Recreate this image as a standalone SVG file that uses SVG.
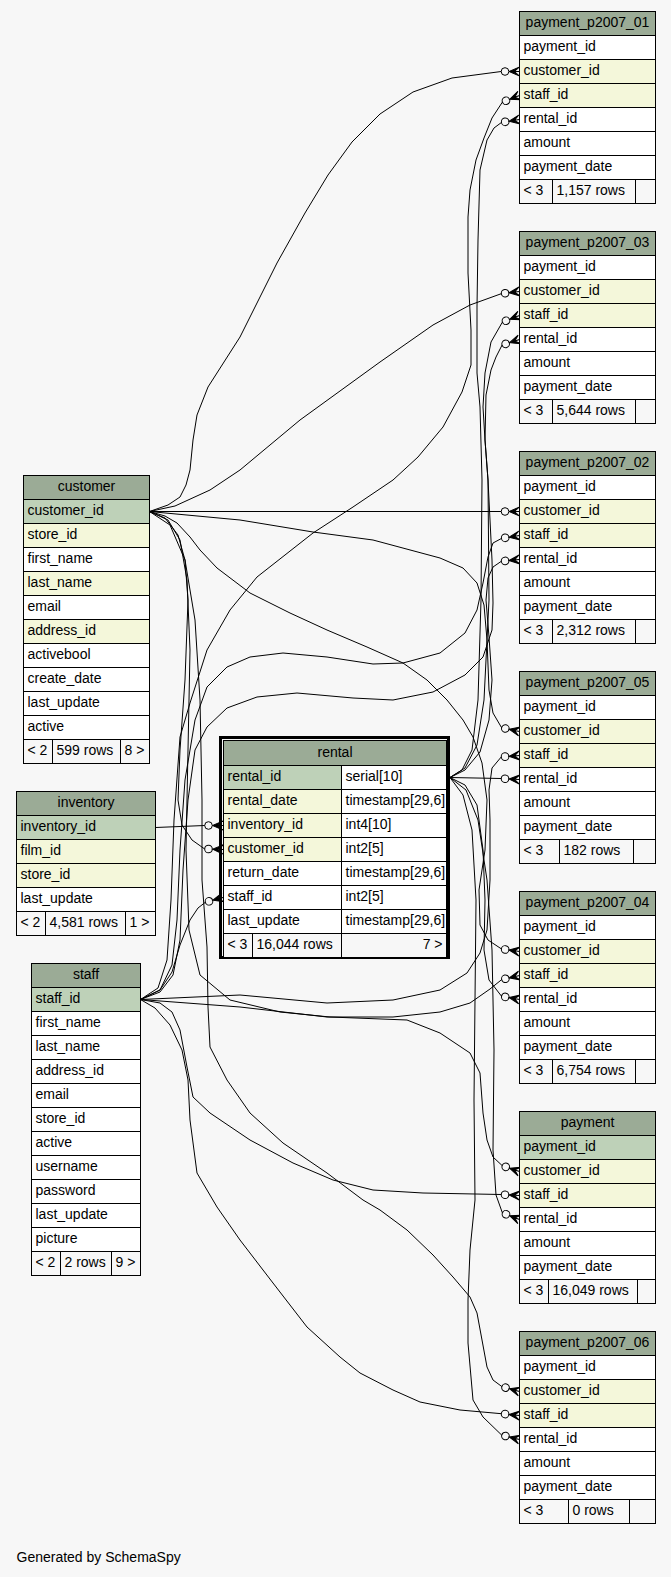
<svg xmlns="http://www.w3.org/2000/svg" xmlns:xlink="http://www.w3.org/1999/xlink" width="671" height="1577" viewBox="0 0 671 1577">
<style>
  text { font-family: "Liberation Sans", Arial, Helvetica, sans-serif; font-size: 14px; fill: #000; }
  .mid { text-anchor: middle; }
  .end { text-anchor: end; }
  .tbl rect { stroke: #000; stroke-width: 1; }
  .tbl rect.frame { fill: none; stroke: #000; stroke-width: 3; }
  .hdr { fill: #9bab96; }
  .pk { fill: #bed1b8; }
  .fk { fill: #f4f7da; }
  .w { fill: #ffffff; }
  .ft { fill: #f7f7f7; }
  #connectors path { fill: none; stroke: #000; stroke-width: 1; stroke-linejoin: round; }
</style>
<defs>
  <!-- crow's foot with open circle; tip at origin, edge leaves towards -x -->
  <g id="foot">
    <polygon points="-10.5,0 0,-4.5 -5,0 0,0 -5,0 0,4.5" fill="#000" stroke="#000" stroke-width="1"/>
    <circle cx="-14.5" cy="0" r="3.8" fill="none" stroke="#000" stroke-width="1"/>
  </g>
</defs>
<rect x="0" y="0" width="671" height="1577" fill="#f7f7f7"/>

<!-- connectors -->
<g id="connectors">
  <!-- customer.customer_id -->
  <path d="M149.5,511.5 L168,505 L180,497 L186,485 L190,470 L193,440 L197,415 L208,387 L240,337 L277,263 L305,213 L328,175 L352,142 L380,114 L413,92 L452,78 L501.2,71.5"/>
  <path d="M149.5,511.5 L175,506 L210,490 L240,470 L300,420 L380,362 L433,325 L470,305 L501.3,293.7"/>
  <path d="M149.5,511.5 L501.2,511.5"/>
  <path d="M149.5,511.5 L240,520 L313,532 L373,540 L440,558 L463,568 L477,583 L484,605 L487,640 L489,690 L493,713 L501.6,727.7"/>
  <path d="M149.5,511.5 L165,516 L177,523 L190,537 L200,550 L217,568 L250,593 L290,613 L327,630 L367,647 L403,663 L427,680 L447,700 L463,720 L473,737 L482,763 L487,800 L485,850 L479,890 L480,925 L488,940 L501.4,948.9"/>
  <path d="M149.5,511.5 L165,518 L178,535 L185,560 L188,600 L185,680 L180,750 L178,800 L182,825 L192,840 L204.7,849"/>
  <path d="M149.5,511.5 L168,520 L180,540 L187,580 L190,650 L188,750 L186,850 L189,930 L200,975 L230,1000 L280,1012 L330,1017 L407,1020 L440,1033 L470,1053 L480,1073 L483,1113 L487,1140 L493,1157 L502.2,1165.6"/>
  <path d="M149.5,511.5 L170,525 L185,560 L195,620 L200,700 L202,800 L202,880 L207,947 L208,1007 L210,1047 L227,1080 L250,1113 L283,1143 L327,1173 L363,1200 L380,1210 L407,1230 L433,1255 L453,1277 L470,1297 L477,1313 L482,1340 L487,1367 L493,1380 L501.9,1386.6"/>
  <!-- inventory.inventory_id -->
  <path d="M155.5,827.5 L204.7,825.5"/>
  <!-- staff.staff_id -->
  <path d="M140.5,999.5 L160,990 L172,972 L180,945 L190,920 L198,908 L205.3,902.3"/>
  <path d="M140.5,999.5 L158,988 L167,960 L171,900 L174,820 L180,737 L190,703 L207,650 L230,610 L257,577 L313,533 L353,507 L393,480 L418,457 L443,427 L462,392 L471,365 L471,330 L468,273 L468,217 L470,190 L476,160 L484,138 L492,118 L502.4,102.1"/>
  <path d="M140.5,999.5 L160,990 L172,965 L177,920 L180,850 L185,780 L195,720 L207,687 L227,667 L250,657 L283,653 L327,657 L373,664 L403,663 L440,653 L465,633 L477,610 L483,583 L488,557 L493,543 L501.4,538.5"/>
  <path d="M140.5,999.5 L160,992 L173,975 L180,940 L183,870 L188,800 L195,750 L207,727 L227,708 L257,697 L297,693 L353,698 L393,700 L433,692 L465,675 L483,657 L492,630 L493,603 L492,560 L490,520 L488,480 L485,440 L483,407 L485,373 L491,342 L502.4,322.1"/>
  <path d="M140.5,999.5 L240,995 L327,1003 L393,1000 L440,990 L467,973 L480,953 L487,930 L490,880 L490,820 L489,790 L492,768 L501.3,756.9"/>
  <path d="M140.5,999.5 L240,1007 L327,1017 L393,1017 L440,1012 L470,1003 L490,989 L501.7,979.6"/>
  <path d="M140.5,999.5 L160,1003 L172,1012 L180,1030 L187,1067 L193,1097 L210,1113 L250,1140 L293,1163 L333,1180 L373,1190 L423,1193 L501.2,1194.5"/>
  <path d="M140.5,999.5 L155,1008 L170,1025 L182,1050 L188,1080 L190,1120 L197,1173 L217,1207 L240,1240 L273,1283 L307,1327 L340,1357 L360,1373 L393,1390 L420,1402 L460,1410 L501.3,1413.7"/>
  <!-- rental.rental_id -->
  <path d="M450,777.5 L501.2,778.5"/>
  <path d="M450,777.5 L462,770 L472,750 L478,700 L481,600 L482,480 L480,407 L477,373 L477,307 L478,240 L480,170 L487,140 L494,128 L501.4,122.5"/>
  <path d="M450,777.5 L465,768 L477,745 L484,700 L489,600 L488,480 L485,440 L486,395 L491,370 L496,357 L502.1,345"/>
  <path d="M450,777.5 L465,770 L480,752 L489,720 L492,680 L489,637 L486,600 L488,578 L493,567 L501.3,561.3"/>
  <path d="M450,777.5 L465,785 L477,805 L483,850 L485,900 L484,950 L489,980 L501.5,996.2"/>
  <path d="M450,777.5 L466,790 L478,820 L487,880 L492,950 L494,1050 L493,1150 L496,1195 L502.4,1212.9"/>
  <path d="M450,777.5 L463,795 L472,830 L476,900 L475,1000 L474,1100 L475,1200 L470,1250 L468,1300 L468,1343 L473,1400 L483,1417 L501.7,1435.1"/>

  <!-- crow's feet at the referencing columns -->
  <use xlink:href="#foot" transform="translate(519.5,71.5)"/>
  <use xlink:href="#foot" transform="translate(519.5,95.5) rotate(-21.2)"/>
  <use xlink:href="#foot" transform="translate(519.5,119.5) rotate(-9.3)"/>
  <use xlink:href="#foot" transform="translate(519.5,291.5) rotate(-6.8)"/>
  <use xlink:href="#foot" transform="translate(519.5,315.5) rotate(-21.2)"/>
  <use xlink:href="#foot" transform="translate(519.5,339.5) rotate(-17.6)"/>
  <use xlink:href="#foot" transform="translate(519.5,511.5)"/>
  <use xlink:href="#foot" transform="translate(519.5,535.5) rotate(-9.3)"/>
  <use xlink:href="#foot" transform="translate(519.5,559.5) rotate(-5.6)"/>
  <use xlink:href="#foot" transform="translate(519.5,731.5) rotate(11.9)"/>
  <use xlink:href="#foot" transform="translate(519.5,755.5) rotate(-4.5)"/>
  <use xlink:href="#foot" transform="translate(519.5,779.5) rotate(3)"/>
  <use xlink:href="#foot" transform="translate(519.5,951.5) rotate(8.2)"/>
  <use xlink:href="#foot" transform="translate(519.5,975.5) rotate(-13)"/>
  <use xlink:href="#foot" transform="translate(519.5,999.5) rotate(10.4)"/>
  <use xlink:href="#foot" transform="translate(519.5,1171.5) rotate(18.7)"/>
  <use xlink:href="#foot" transform="translate(519.5,1195.5) rotate(3)"/>
  <use xlink:href="#foot" transform="translate(519.5,1219.5) rotate(21.2)"/>
  <use xlink:href="#foot" transform="translate(519.5,1391.5) rotate(15.4)"/>
  <use xlink:href="#foot" transform="translate(519.5,1415.5) rotate(5.6)"/>
  <use xlink:href="#foot" transform="translate(519.5,1439.5) rotate(14)"/>
  <use xlink:href="#foot" transform="translate(223,825.5)"/>
  <use xlink:href="#foot" transform="translate(223,849.5) rotate(2)"/>
  <use xlink:href="#foot" transform="translate(223,897.5) rotate(-15.2)"/>
</g>

<!-- customer -->
<g id="customer" class="tbl" transform="translate(23.5,475.5)">
  <rect class="hdr" x="0" y="0" width="126" height="24"/><text class="mid" x="63" y="15.5">customer</text>
  <rect class="pk" x="0" y="24" width="126" height="24"/><text x="4" y="39.5">customer_id</text>
  <rect class="fk" x="0" y="48" width="126" height="24"/><text x="4" y="63.5">store_id</text>
  <rect class="w" x="0" y="72" width="126" height="24"/><text x="4" y="87.5">first_name</text>
  <rect class="fk" x="0" y="96" width="126" height="24"/><text x="4" y="111.5">last_name</text>
  <rect class="w" x="0" y="120" width="126" height="24"/><text x="4" y="135.5">email</text>
  <rect class="fk" x="0" y="144" width="126" height="24"/><text x="4" y="159.5">address_id</text>
  <rect class="w" x="0" y="168" width="126" height="24"/><text x="4" y="183.5">activebool</text>
  <rect class="w" x="0" y="192" width="126" height="24"/><text x="4" y="207.5">create_date</text>
  <rect class="w" x="0" y="216" width="126" height="24"/><text x="4" y="231.5">last_update</text>
  <rect class="w" x="0" y="240" width="126" height="24"/><text x="4" y="255.5">active</text>
  <rect class="ft" x="0" y="264" width="29" height="24"/><text x="4" y="279.5">&lt; 2</text>
  <rect class="ft" x="29" y="264" width="68" height="24"/><text x="33" y="279.5">599 rows</text>
  <rect class="ft" x="97" y="264" width="29" height="24"/><text x="101" y="279.5">8 &gt;</text>
</g>

<!-- inventory -->
<g id="inventory" class="tbl" transform="translate(16.5,791.5)">
  <rect class="hdr" x="0" y="0" width="139" height="24"/><text class="mid" x="69.5" y="15.5">inventory</text>
  <rect class="pk" x="0" y="24" width="139" height="24"/><text x="4" y="39.5">inventory_id</text>
  <rect class="fk" x="0" y="48" width="139" height="24"/><text x="4" y="63.5">film_id</text>
  <rect class="fk" x="0" y="72" width="139" height="24"/><text x="4" y="87.5">store_id</text>
  <rect class="w" x="0" y="96" width="139" height="24"/><text x="4" y="111.5">last_update</text>
  <rect class="ft" x="0" y="120" width="29" height="24"/><text x="4" y="135.5">&lt; 2</text>
  <rect class="ft" x="29" y="120" width="80" height="24"/><text x="33" y="135.5">4,581 rows</text>
  <rect class="ft" x="109" y="120" width="30" height="24"/><text x="113" y="135.5">1 &gt;</text>
</g>

<!-- staff -->
<g id="staff" class="tbl" transform="translate(31.5,963.5)">
  <rect class="hdr" x="0" y="0" width="109" height="24"/><text class="mid" x="54.5" y="15.5">staff</text>
  <rect class="pk" x="0" y="24" width="109" height="24"/><text x="4" y="39.5">staff_id</text>
  <rect class="w" x="0" y="48" width="109" height="24"/><text x="4" y="63.5">first_name</text>
  <rect class="w" x="0" y="72" width="109" height="24"/><text x="4" y="87.5">last_name</text>
  <rect class="w" x="0" y="96" width="109" height="24"/><text x="4" y="111.5">address_id</text>
  <rect class="w" x="0" y="120" width="109" height="24"/><text x="4" y="135.5">email</text>
  <rect class="w" x="0" y="144" width="109" height="24"/><text x="4" y="159.5">store_id</text>
  <rect class="w" x="0" y="168" width="109" height="24"/><text x="4" y="183.5">active</text>
  <rect class="w" x="0" y="192" width="109" height="24"/><text x="4" y="207.5">username</text>
  <rect class="w" x="0" y="216" width="109" height="24"/><text x="4" y="231.5">password</text>
  <rect class="w" x="0" y="240" width="109" height="24"/><text x="4" y="255.5">last_update</text>
  <rect class="w" x="0" y="264" width="109" height="24"/><text x="4" y="279.5">picture</text>
  <rect class="ft" x="0" y="288" width="29" height="24"/><text x="4" y="303.5">&lt; 2</text>
  <rect class="ft" x="29" y="288" width="51" height="24"/><text x="33" y="303.5">2 rows</text>
  <rect class="ft" x="80" y="288" width="29" height="24"/><text x="84" y="303.5">9 &gt;</text>
</g>

<!-- rental -->
<g id="rental" class="tbl">
  <rect class="frame" x="220.5" y="737.5" width="228" height="220"/>
  <g transform="translate(223.5,740.5)">
    <rect class="hdr" x="0" y="0" width="223" height="25"/><text class="mid" x="111.5" y="16">rental</text>
    <rect class="pk" x="0" y="25" width="118" height="24"/><text x="4" y="40.5">rental_id</text>
    <rect class="w" x="118" y="25" width="105" height="24"/><text x="122" y="40.5">serial[10]</text>
    <rect class="fk" x="0" y="49" width="118" height="24"/><text x="4" y="64.5">rental_date</text>
    <rect class="w" x="118" y="49" width="105" height="24"/><text x="122" y="64.5">timestamp[29,6]</text>
    <rect class="fk" x="0" y="73" width="118" height="24"/><text x="4" y="88.5">inventory_id</text>
    <rect class="w" x="118" y="73" width="105" height="24"/><text x="122" y="88.5">int4[10]</text>
    <rect class="fk" x="0" y="97" width="118" height="24"/><text x="4" y="112.5">customer_id</text>
    <rect class="w" x="118" y="97" width="105" height="24"/><text x="122" y="112.5">int2[5]</text>
    <rect class="w" x="0" y="121" width="118" height="24"/><text x="4" y="136.5">return_date</text>
    <rect class="w" x="118" y="121" width="105" height="24"/><text x="122" y="136.5">timestamp[29,6]</text>
    <rect class="w" x="0" y="145" width="118" height="24"/><text x="4" y="160.5">staff_id</text>
    <rect class="w" x="118" y="145" width="105" height="24"/><text x="122" y="160.5">int2[5]</text>
    <rect class="w" x="0" y="169" width="118" height="24"/><text x="4" y="184.5">last_update</text>
    <rect class="w" x="118" y="169" width="105" height="24"/><text x="122" y="184.5">timestamp[29,6]</text>
    <rect class="ft" x="0" y="193" width="29" height="24"/><text x="4" y="208.5">&lt; 3</text>
    <rect class="ft" x="29" y="193" width="89" height="24"/><text x="33" y="208.5">16,044 rows</text>
    <rect class="ft" x="118" y="193" width="105" height="24"/><text class="end" x="219" y="208.5">7 &gt;</text>
  </g>
</g>

<!-- payment_p2007_01 -->
<g id="payment_p2007_01" class="tbl" transform="translate(519.5,11.5)">
  <rect class="hdr" x="0" y="0" width="136" height="24"/><text class="mid" x="68" y="15.5">payment_p2007_01</text>
  <rect class="w" x="0" y="24" width="136" height="24"/><text x="4" y="39.5">payment_id</text>
  <rect class="fk" x="0" y="48" width="136" height="24"/><text x="4" y="63.5">customer_id</text>
  <rect class="fk" x="0" y="72" width="136" height="24"/><text x="4" y="87.5">staff_id</text>
  <rect class="w" x="0" y="96" width="136" height="24"/><text x="4" y="111.5">rental_id</text>
  <rect class="w" x="0" y="120" width="136" height="24"/><text x="4" y="135.5">amount</text>
  <rect class="w" x="0" y="144" width="136" height="24"/><text x="4" y="159.5">payment_date</text>
  <rect class="ft" x="0" y="168" width="33" height="24"/><text x="4" y="183.5">&lt; 3</text>
  <rect class="ft" x="33" y="168" width="83" height="24"/><text x="37" y="183.5">1,157 rows</text>
  <rect class="ft" x="116" y="168" width="20" height="24"/>
</g>

<!-- payment_p2007_03 -->
<g id="payment_p2007_03" class="tbl" transform="translate(519.5,231.5)">
  <rect class="hdr" x="0" y="0" width="136" height="24"/><text class="mid" x="68" y="15.5">payment_p2007_03</text>
  <rect class="w" x="0" y="24" width="136" height="24"/><text x="4" y="39.5">payment_id</text>
  <rect class="fk" x="0" y="48" width="136" height="24"/><text x="4" y="63.5">customer_id</text>
  <rect class="fk" x="0" y="72" width="136" height="24"/><text x="4" y="87.5">staff_id</text>
  <rect class="w" x="0" y="96" width="136" height="24"/><text x="4" y="111.5">rental_id</text>
  <rect class="w" x="0" y="120" width="136" height="24"/><text x="4" y="135.5">amount</text>
  <rect class="w" x="0" y="144" width="136" height="24"/><text x="4" y="159.5">payment_date</text>
  <rect class="ft" x="0" y="168" width="33" height="24"/><text x="4" y="183.5">&lt; 3</text>
  <rect class="ft" x="33" y="168" width="83" height="24"/><text x="37" y="183.5">5,644 rows</text>
  <rect class="ft" x="116" y="168" width="20" height="24"/>
</g>

<!-- payment_p2007_02 -->
<g id="payment_p2007_02" class="tbl" transform="translate(519.5,451.5)">
  <rect class="hdr" x="0" y="0" width="136" height="24"/><text class="mid" x="68" y="15.5">payment_p2007_02</text>
  <rect class="w" x="0" y="24" width="136" height="24"/><text x="4" y="39.5">payment_id</text>
  <rect class="fk" x="0" y="48" width="136" height="24"/><text x="4" y="63.5">customer_id</text>
  <rect class="fk" x="0" y="72" width="136" height="24"/><text x="4" y="87.5">staff_id</text>
  <rect class="w" x="0" y="96" width="136" height="24"/><text x="4" y="111.5">rental_id</text>
  <rect class="w" x="0" y="120" width="136" height="24"/><text x="4" y="135.5">amount</text>
  <rect class="w" x="0" y="144" width="136" height="24"/><text x="4" y="159.5">payment_date</text>
  <rect class="ft" x="0" y="168" width="33" height="24"/><text x="4" y="183.5">&lt; 3</text>
  <rect class="ft" x="33" y="168" width="83" height="24"/><text x="37" y="183.5">2,312 rows</text>
  <rect class="ft" x="116" y="168" width="20" height="24"/>
</g>

<!-- payment_p2007_05 -->
<g id="payment_p2007_05" class="tbl" transform="translate(519.5,671.5)">
  <rect class="hdr" x="0" y="0" width="136" height="24"/><text class="mid" x="68" y="15.5">payment_p2007_05</text>
  <rect class="w" x="0" y="24" width="136" height="24"/><text x="4" y="39.5">payment_id</text>
  <rect class="fk" x="0" y="48" width="136" height="24"/><text x="4" y="63.5">customer_id</text>
  <rect class="fk" x="0" y="72" width="136" height="24"/><text x="4" y="87.5">staff_id</text>
  <rect class="w" x="0" y="96" width="136" height="24"/><text x="4" y="111.5">rental_id</text>
  <rect class="w" x="0" y="120" width="136" height="24"/><text x="4" y="135.5">amount</text>
  <rect class="w" x="0" y="144" width="136" height="24"/><text x="4" y="159.5">payment_date</text>
  <rect class="ft" x="0" y="168" width="40" height="24"/><text x="4" y="183.5">&lt; 3</text>
  <rect class="ft" x="40" y="168" width="74" height="24"/><text x="44" y="183.5">182 rows</text>
  <rect class="ft" x="114" y="168" width="22" height="24"/>
</g>

<!-- payment_p2007_04 -->
<g id="payment_p2007_04" class="tbl" transform="translate(519.5,891.5)">
  <rect class="hdr" x="0" y="0" width="136" height="24"/><text class="mid" x="68" y="15.5">payment_p2007_04</text>
  <rect class="w" x="0" y="24" width="136" height="24"/><text x="4" y="39.5">payment_id</text>
  <rect class="fk" x="0" y="48" width="136" height="24"/><text x="4" y="63.5">customer_id</text>
  <rect class="fk" x="0" y="72" width="136" height="24"/><text x="4" y="87.5">staff_id</text>
  <rect class="w" x="0" y="96" width="136" height="24"/><text x="4" y="111.5">rental_id</text>
  <rect class="w" x="0" y="120" width="136" height="24"/><text x="4" y="135.5">amount</text>
  <rect class="w" x="0" y="144" width="136" height="24"/><text x="4" y="159.5">payment_date</text>
  <rect class="ft" x="0" y="168" width="33" height="24"/><text x="4" y="183.5">&lt; 3</text>
  <rect class="ft" x="33" y="168" width="83" height="24"/><text x="37" y="183.5">6,754 rows</text>
  <rect class="ft" x="116" y="168" width="20" height="24"/>
</g>

<!-- payment -->
<g id="payment" class="tbl" transform="translate(519.5,1111.5)">
  <rect class="hdr" x="0" y="0" width="136" height="24"/><text class="mid" x="68" y="15.5">payment</text>
  <rect class="pk" x="0" y="24" width="136" height="24"/><text x="4" y="39.5">payment_id</text>
  <rect class="fk" x="0" y="48" width="136" height="24"/><text x="4" y="63.5">customer_id</text>
  <rect class="fk" x="0" y="72" width="136" height="24"/><text x="4" y="87.5">staff_id</text>
  <rect class="w" x="0" y="96" width="136" height="24"/><text x="4" y="111.5">rental_id</text>
  <rect class="w" x="0" y="120" width="136" height="24"/><text x="4" y="135.5">amount</text>
  <rect class="w" x="0" y="144" width="136" height="24"/><text x="4" y="159.5">payment_date</text>
  <rect class="ft" x="0" y="168" width="29" height="24"/><text x="4" y="183.5">&lt; 3</text>
  <rect class="ft" x="29" y="168" width="89" height="24"/><text x="33" y="183.5">16,049 rows</text>
  <rect class="ft" x="118" y="168" width="18" height="24"/>
</g>

<!-- payment_p2007_06 -->
<g id="payment_p2007_06" class="tbl" transform="translate(519.5,1331.5)">
  <rect class="hdr" x="0" y="0" width="136" height="24"/><text class="mid" x="68" y="15.5">payment_p2007_06</text>
  <rect class="w" x="0" y="24" width="136" height="24"/><text x="4" y="39.5">payment_id</text>
  <rect class="fk" x="0" y="48" width="136" height="24"/><text x="4" y="63.5">customer_id</text>
  <rect class="fk" x="0" y="72" width="136" height="24"/><text x="4" y="87.5">staff_id</text>
  <rect class="w" x="0" y="96" width="136" height="24"/><text x="4" y="111.5">rental_id</text>
  <rect class="w" x="0" y="120" width="136" height="24"/><text x="4" y="135.5">amount</text>
  <rect class="w" x="0" y="144" width="136" height="24"/><text x="4" y="159.5">payment_date</text>
  <rect class="ft" x="0" y="168" width="49" height="24"/><text x="4" y="183.5">&lt; 3</text>
  <rect class="ft" x="49" y="168" width="61" height="24"/><text x="53" y="183.5">0 rows</text>
  <rect class="ft" x="110" y="168" width="26" height="24"/>
</g>

<text x="16.5" y="1562">Generated by SchemaSpy</text>
</svg>
